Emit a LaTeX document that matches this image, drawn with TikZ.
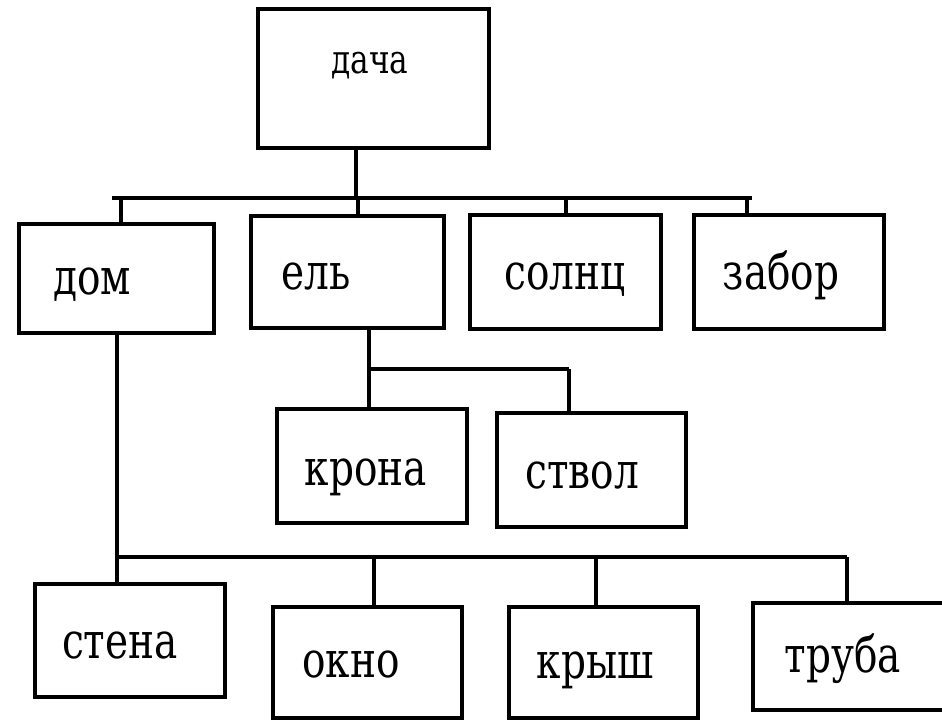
\documentclass[tikz,border=0pt]{standalone}
\usepackage{fontspec}
\newfontfamily\boxfont[FakeStretch=0.78]{DejaVu Serif}
\usetikzlibrary{positioning, calc}

\begin{document}
\begin{tikzpicture}[
    x=0.5pt, y=-0.5pt,
    line width=1.6pt,
    box/.style={draw, line width=1.8pt, rectangle, inner sep=0pt},
    word/.style={anchor=base, inner sep=0pt, font=\boxfont\fontsize{25}{30}\selectfont}
]
    \useasboundingbox (0,0) rectangle (942,721);

    % Boxes: name / centre x / centre y / width / height
    \foreach \n/\x/\y/\w/\h in {
        dacha/373.5/78.5/231/139,
        dom/116.5/278.5/195/109, el/347.5/272/193/112,
        solnc/565.5/272/191/114, zabor/789/272/190/114,
        krona/372/466/190/114, stvol/591.5/470/189/114,
        stena/130/640.5/190/113, okno/367.5/662.5/189/111,
        krysh/603.5/662.5/189/111, truba/849/656.5/192/107
    } {
        \node[box, minimum width=\w*0.5pt, minimum height=\h*0.5pt] (\n) at (\x,\y) {};
    }

    % Words (set on their baselines)
    \node[word, font=\boxfont\fontsize{20}{24}\selectfont] (dacha-t) at (370,74) {дача};
    \node[word] (dom-t) at (92,295) {дом};
    \node[word] (el-t) at (316,290) {ель};
    \node[word] (solnc-t) at (565,290) {солнц};
    \node[word] (zabor-t) at (781,290) {забор};
    \node[word] (krona-t) at (366,485) {крона};
    \node[word] (stvol-t) at (582,488) {ствол};
    \node[word] (stena-t) at (120,658) {стена};
    \node[word] (okno-t) at (351,677) {окно};
    \node[word] (krysh-t) at (595,678) {крыш};
    \node[word] (truba-t) at (843,672) {труба};

    % First level: dacha -> dom, el, solnc, zabor
    \coordinate (busA-l) at (112,198);
    \coordinate (busA-r) at (752,198);
    \coordinate (busA-c) at (356,198);
    \draw (dacha.south -| busA-c) -- (busA-c);
    \draw (busA-l) -- (busA-r);
    \foreach \n/\x in {dom/121, el/358, solnc/566, zabor/747} {
        \coordinate (t-\n) at (\x,198);
        \draw (t-\n) -- (t-\n |- \n.north);
    }

    % el -> krona, stvol
    \coordinate (busB-l) at (369,369);
    \coordinate (busB-r) at (569,369);
    \draw (el.south -| busB-l) -- (busB-l) -- (busB-r);
    \draw (busB-l) -- (busB-l |- krona.north);
    \draw (busB-r) -- (busB-r |- stvol.north);

    % dom -> stena, okno, krysh, truba
    \coordinate (busC-l) at (117,557);
    \coordinate (busC-r) at (847,557);
    \draw (dom.south -| busC-l) -- (busC-l) -- (busC-r);
    \foreach \n/\x in {stena/117, okno/374, krysh/596, truba/847} {
        \coordinate (u-\n) at (\x,557);
        \draw (u-\n) -- (u-\n |- \n.north);
    }

\end{tikzpicture}
\end{document}
